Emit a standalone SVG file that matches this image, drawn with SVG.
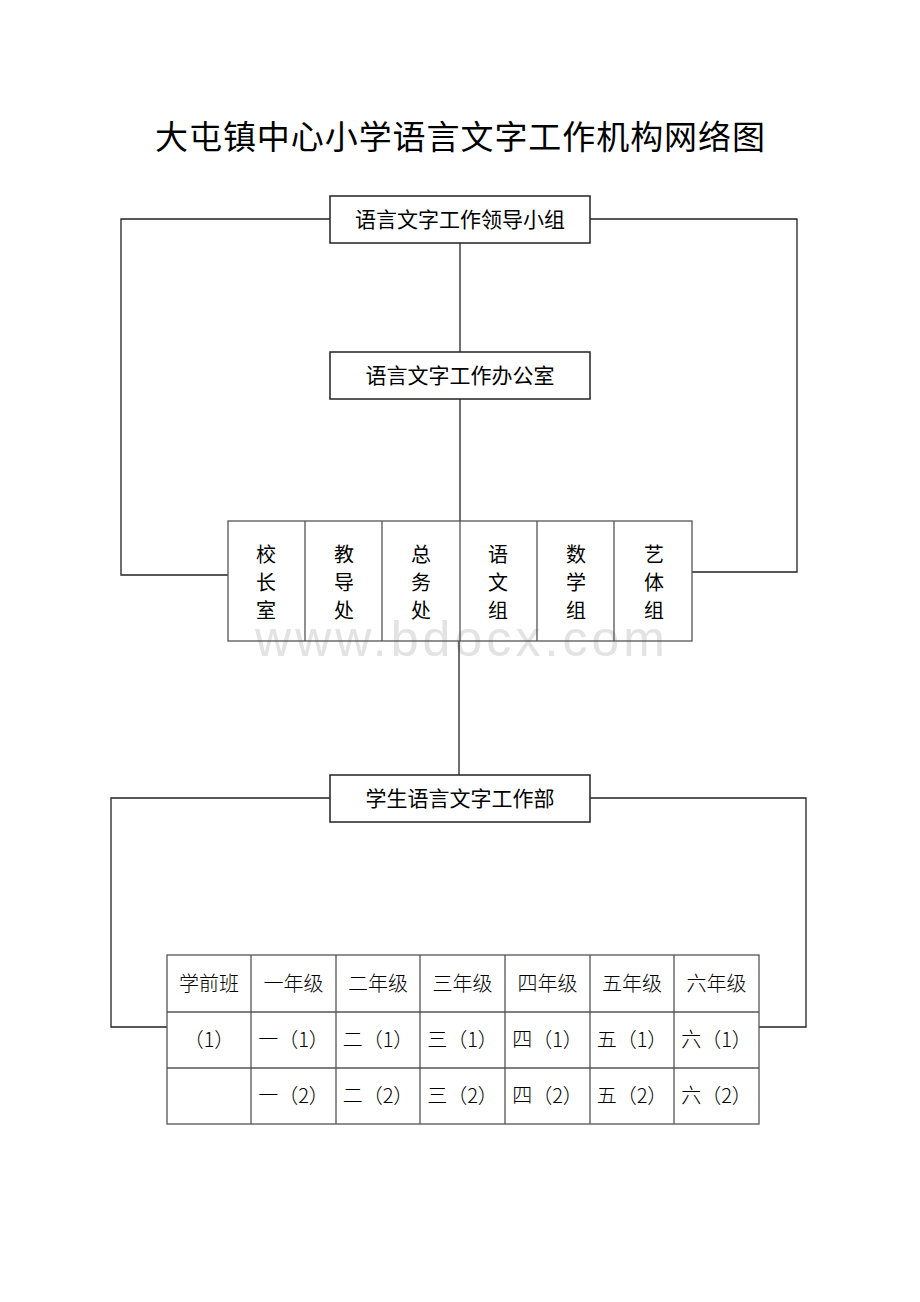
<svg xmlns="http://www.w3.org/2000/svg" width="920" height="1302" viewBox="0 0 920 1302">
<style>
.t{font-family:"Noto Sans CJK SC","Noto Sans",sans-serif;fill:#000;text-anchor:middle}
.box{fill:#fff;stroke:#222;stroke-width:1.5}
.cell{fill:none;stroke:#555;stroke-width:1.3}
.ln{fill:none;stroke:#222;stroke-width:1.3}
.bx{font-size:21px}
.dv{font-size:20px}
.tb{font-size:20px;font-family:"Noto Sans CJK SC",sans-serif;font-weight:300}
</style>
<rect width="920" height="1302" fill="#fff"/>
<text class="t" x="460" y="149" font-size="33" textLength="610" lengthAdjust="spacing">大屯镇中心小学语言文字工作机构网络图</text>
<text x="460" y="656" font-family="Liberation Sans,Arial,sans-serif" font-size="50" fill="#e3e3e3" text-anchor="middle" textLength="410" lengthAdjust="spacing">www.bdocx.com</text>
<g id="connectors">
<path class="ln" d="M460 243V352"/>
<path class="ln" d="M460 399V521"/>
<path class="ln" d="M330 219H121V575H228"/>
<path class="ln" d="M590 219H797V572H692"/>
<path class="ln" d="M459 641V775"/>
<path class="ln" d="M330 798H111V1027H167"/>
<path class="ln" d="M590 798H806V1027H759"/>
</g>
<g id="leader">
<rect class="box" x="330" y="196" width="260" height="47"/>
<text class="t bx" x="460" y="227">语言文字工作领导小组</text>
</g>
<g id="office">
<rect class="box" x="330" y="352" width="260" height="47"/>
<text class="t bx" x="460" y="383">语言文字工作办公室</text>
</g>
<g id="departments">
<rect class="cell" x="228" y="521" width="464" height="120"/>
<path class="cell" d="M305 521V641M382 521V641M460 521V641M537 521V641M614 521V641"/>
<text class="t dv" x="266" y="562">校</text><text class="t dv" x="266" y="590">长</text><text class="t dv" x="266" y="618">室</text>
<text class="t dv" x="344" y="562">教</text><text class="t dv" x="344" y="590">导</text><text class="t dv" x="344" y="618">处</text>
<text class="t dv" x="421" y="562">总</text><text class="t dv" x="421" y="590">务</text><text class="t dv" x="421" y="618">处</text>
<text class="t dv" x="498" y="562">语</text><text class="t dv" x="498" y="590">文</text><text class="t dv" x="498" y="618">组</text>
<text class="t dv" x="576" y="562">数</text><text class="t dv" x="576" y="590">学</text><text class="t dv" x="576" y="618">组</text>
<text class="t dv" x="654" y="562">艺</text><text class="t dv" x="654" y="590">体</text><text class="t dv" x="654" y="618">组</text>
</g>
<g id="student-dept">
<rect class="box" x="330" y="775" width="260" height="47"/>
<text class="t bx" x="460" y="806">学生语言文字工作部</text>
</g>
<g id="classes">
<rect class="cell" x="167" y="955" width="592" height="169"/>
<path class="cell" d="M251 955V1124M336 955V1124M420 955V1124M505 955V1124M590 955V1124M674 955V1124M167 1012H759M167 1068H759"/>
<text class="t tb" x="209" y="991">学前班</text>
<text class="t tb" x="293.5" y="991">一年级</text>
<text class="t tb" x="378" y="991">二年级</text>
<text class="t tb" x="462.5" y="991">三年级</text>
<text class="t tb" x="547.5" y="991">四年级</text>
<text class="t tb" x="632" y="991">五年级</text>
<text class="t tb" x="716.5" y="991">六年级</text>
<text class="t tb" x="209" y="1047">（1）</text>
<text class="t tb" x="293.5" y="1047">一（1）</text>
<text class="t tb" x="378" y="1047">二（1）</text>
<text class="t tb" x="462.5" y="1047">三（1）</text>
<text class="t tb" x="547.5" y="1047">四（1）</text>
<text class="t tb" x="632" y="1047">五（1）</text>
<text class="t tb" x="716.5" y="1047">六（1）</text>
<text class="t tb" x="293.5" y="1103">一（2）</text>
<text class="t tb" x="378" y="1103">二（2）</text>
<text class="t tb" x="462.5" y="1103">三（2）</text>
<text class="t tb" x="547.5" y="1103">四（2）</text>
<text class="t tb" x="632" y="1103">五（2）</text>
<text class="t tb" x="716.5" y="1103">六（2）</text>
</g>
</svg>
